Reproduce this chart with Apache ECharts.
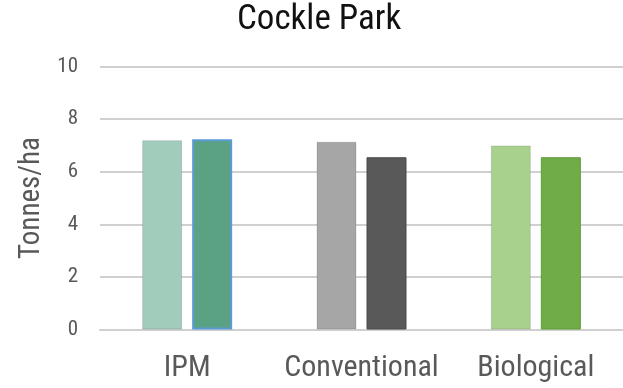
<!DOCTYPE html>
<html>
<head>
<meta charset="utf-8">
<script src="https://cdn.jsdelivr.net/npm/echarts@6/dist/echarts.min.js"></script>
<style>
  html, body { margin: 0; padding: 0; background: #fff; }
  #chart { width: 623px; height: 388px; }
</style>
</head>
<body>
<div id="chart"></div>
<script>
// Yield per farming system, two trial plots each
const categories = ['IPM', 'Conventional', 'Biological'];
const firstPlot = [7.2, 7.14, 7.0];
const secondPlot = [7.23, 6.55, 6.55];
const yTicks = [0, 2, 4, 6, 8, 10];

const firstColours = ['#a1cbbb', '#a6a6a6', '#a9d18e'];
const secondColours = ['#5ba284', '#595959', '#70ad47'];
const secondBorders = ['#5b9bd5', '#4a4a4a', '#5f9a3a'];

const FONT = '"Roboto Condensed", "Liberation Sans Narrow", "Arial Narrow", sans-serif';

const chart = echarts.init(document.getElementById('chart'), null, { renderer: 'canvas' });

chart.setOption({
  animation: false,
  backgroundColor: '#ffffff',
  title: {
    text: 'Cockle Park',
    left: 237,
    top: 3,
    padding: 0,
    textStyle: { fontFamily: FONT, fontSize: 35, fontWeight: 'normal', color: '#111111' }
  },
  grid: { left: 100, right: 0, top: 66.5, bottom: 58.5, containLabel: false },
  xAxis: {
    type: 'category',
    data: categories,
    axisLine: { show: true, lineStyle: { color: '#d0d0d0', width: 2 } },
    axisTick: { show: false },
    axisLabel: { interval: 0, fontFamily: FONT, fontSize: 30, color: '#595959', margin: 24 }
  },
  yAxis: {
    type: 'value',
    min: yTicks[0],
    max: yTicks[yTicks.length - 1],
    interval: yTicks[1] - yTicks[0],
    name: 'Tonnes/ha',
    nameLocation: 'middle',
    nameGap: 52,
    nameTextStyle: { fontFamily: FONT, fontSize: 29, color: '#595959' },
    axisLine: { show: false },
    axisTick: { show: false },
    axisLabel: { fontFamily: FONT, fontSize: 21, color: '#595959', margin: 22 },
    splitLine: { lineStyle: { color: '#d0d0d0', width: 2 } }
  },
  series: [
    {
      type: 'bar',
      barWidth: 40,
      barGap: '25%',
      data: firstPlot.map((v, i) => ({
        value: v,
        itemStyle: { color: firstColours[i], borderColor: 'rgba(0,0,0,0.12)', borderWidth: 1 }
      }))
    },
    {
      type: 'bar',
      barWidth: 40,
      barGap: '25%',
      data: secondPlot.map((v, i) => ({
        value: v,
        itemStyle: { color: secondColours[i], borderColor: secondBorders[i], borderWidth: i === 0 ? 2 : 1 }
      }))
    }
  ]
});
</script>
</body>
</html>
